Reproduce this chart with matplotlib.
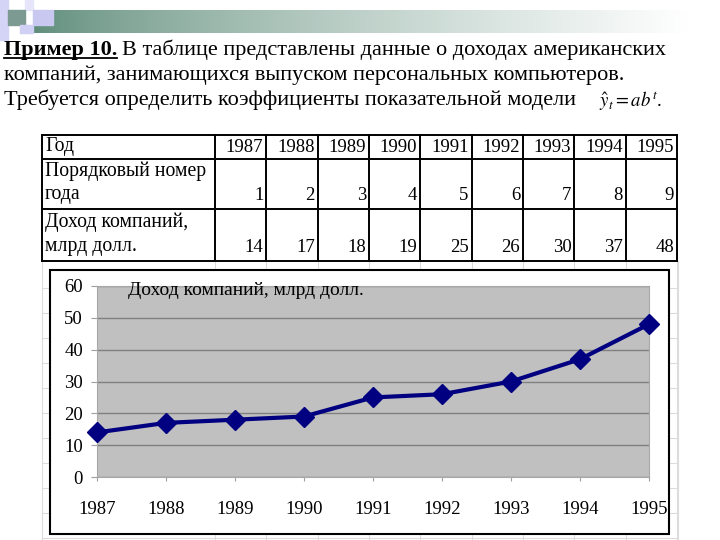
import matplotlib.pyplot as plt
from matplotlib.patches import Rectangle
import numpy as np

# данные
years = [1987, 1988, 1989, 1990, 1991, 1992, 1993, 1994, 1995]
nums = [1, 2, 3, 4, 5, 6, 7, 8, 9]
income = [14, 17, 18, 19, 25, 26, 30, 37, 48]

serif = ['Liberation Serif', 'DejaVu Serif']
plt.rcParams['font.family'] = serif
plt.rcParams['mathtext.fontset'] = 'stix'

W, H = 720, 540
fig = plt.figure(figsize=(7.2, 5.4), dpi=100)

# фон слайда в пикселях
bg = fig.add_axes([0, 0, 1, 1])
bg.set_xlim(0, W)
bg.set_ylim(H, 0)
bg.axis('off')

def fx(x):
    return x / W

def fy(y):
    return 1 - y / H

# полоса-градиент сверху
grad = np.linspace(0, 1, 256).reshape(1, -1)
c0 = np.array([0.37, 0.55, 0.48])
c1 = np.array([1.0, 1.0, 1.0])
t = np.clip(grad ** 0.75, 0, 1)
img = (c0[None, None, :] * (1 - t[..., None]) + c1[None, None, :] * t[..., None])
bg.imshow(img, extent=(33, 690, 33, 10), aspect='auto', zorder=1)

# квадратики слева
bg.add_patch(Rectangle((0, 0), 8, 40, color='#d4d4f6', zorder=2))
bg.add_patch(Rectangle((25, 0), 8, 10, color='#e4e4fa', zorder=2))
bg.add_patch(Rectangle((8, 10), 17, 15, color='#7d9a92', zorder=2))
bg.add_patch(Rectangle((33, 10), 20, 15, color='#c8c8f0', zorder=2))
bg.add_patch(Rectangle((20, 25), 13, 8, color='#d0d0f4', zorder=2))

# текст задания
fs = 16
r = fig.canvas.get_renderer()
t1 = fig.text(fx(4), fy(55), 'Пример 10.', fontsize=fs, fontweight='bold', va='baseline',
              family=serif)
bb = t1.get_window_extent(renderer=r)
bg.plot([4, bb.x1], [58, 58], color='black', lw=1.3)
fig.text(bb.x1 / W + fx(5), fy(55), 'В таблице представлены данные о доходах американских',
         fontsize=fs, va='baseline', family=serif)
fig.text(fx(4), fy(80), 'компаний, занимающихся выпуском персональных компьютеров.',
         fontsize=fs, va='baseline', family=serif)
fig.text(fx(4), fy(105), 'Требуется определить коэффициенты показательной модели',
         fontsize=fs, va='baseline', family=serif)
fig.text(fx(599), fy(107), r'$\hat{y}_t = ab^t$.', fontsize=13.5, va='baseline')

# таблица
tl, tr, tt, tb = 42, 677, 135, 261
row_y = [135, 159, 209, 261]
col_x = [42] + list(np.linspace(215, 677, len(years) + 1))
for y in row_y:
    bg.plot([tl, tr], [y, y], color='black', lw=1.4, zorder=3)
for x in col_x:
    bg.plot([x, x], [tt, tb], color='black', lw=1.4, zorder=3)

tfs = 13.5
lfs = 14.2
bg.text(45, 147, 'Год', fontsize=lfs, va='center', ha='left', family=serif)
bg.text(45, 171, 'Порядковый номер', fontsize=lfs, va='center', ha='left', family=serif)
bg.text(45, 195, 'года', fontsize=lfs, va='center', ha='left', family=serif)
bg.text(45, 222, 'Доход компаний,', fontsize=lfs, va='center', ha='left', family=serif)
bg.text(45, 246, 'млрд долл.', fontsize=lfs, va='center', ha='left', family=serif)
for i in range(len(years)):
    xr = col_x[i + 2] - 3
    bg.text(xr, 147, str(years[i]), fontsize=tfs, va='center', ha='right', family=serif)
    bg.text(xr, 196, str(nums[i]), fontsize=tfs, va='center', ha='right', family=serif)
    bg.text(xr, 248, str(income[i]), fontsize=tfs, va='center', ha='right', family=serif)

# сетка листа Excel под диаграммой
for y in range(288, 540, 25):
    bg.plot([tl, tr + 1], [y, y], color='#dcdcdc', lw=0.8, zorder=2)
for x in col_x:
    bg.plot([x, x], [tb, H], color='#dcdcdc', lw=0.8, zorder=2)
bg.plot([tr + 1, tr + 1], [tb, H], color='#dcdcdc', lw=0.8, zorder=2)

# рамка диаграммы
bg.add_patch(Rectangle((50, 270), 619, 264, facecolor='white', edgecolor='black',
                       lw=1.5, zorder=4))

# сама диаграмма
ax = fig.add_axes([fx(97), fy(477), (649 - 97) / W, (477 - 286) / H])
ax.set_facecolor('#c0c0c0')
ax.plot(years, income, color='#000080', lw=3, marker='D', markersize=10.5,
        markerfacecolor='#000080', markeredgecolor='#000080', clip_on=False, zorder=5)
ax.set_xlim(years[0], years[-1])
ax.set_ylim(0, 60)
ax.set_yticks(range(0, 61, 10))
ax.set_xticks(years)
ax.grid(True, axis='y', color='#808080', lw=1)
ax.set_axisbelow(True)
for s in ax.spines.values():
    s.set_color('#a8a8a8')
    s.set_linewidth(0.8)
ax.tick_params(axis='y', direction='out', length=4, pad=6, color='#a0a0a0', labelsize=13.5)
ax.tick_params(axis='x', direction='out', length=3, pad=14, color='#a0a0a0', labelsize=13.5)
for lab in ax.get_xticklabels() + ax.get_yticklabels():
    lab.set_family(serif)

fig.text(fx(128), fy(295), 'Доход компаний, млрд долл.', fontsize=14, va='baseline',
         zorder=10, family=serif)

fig.savefig('out.png', dpi=100)
